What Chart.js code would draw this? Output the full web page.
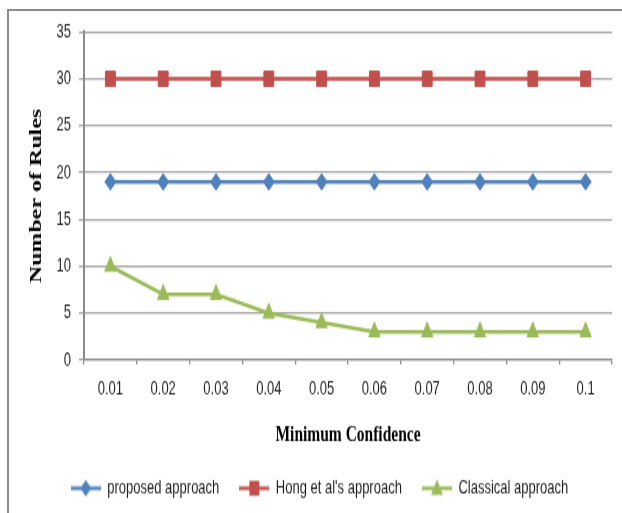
<!DOCTYPE html>
<html>
<head>
<meta charset="utf-8">
<title>Number of Rules vs Minimum Confidence</title>
<script src="https://cdn.jsdelivr.net/npm/chart.js@4.4.0/dist/chart.umd.min.js"></script>
<style>
  html, body { margin: 0; padding: 0; background: #ffffff; }
  body { width: 622px; height: 513px; overflow: hidden; position: relative; }
  /* outer frame of the original figure */
  #frame {
    position: absolute; left: 7px; top: 9px; width: 660px; height: 540px;
    border-left: 2px solid #8c8c8c; border-top: 2px solid #8c8c8c;
  }
  /* the source picture is stretched vertically by ~1.5 */
  #wrap {
    position: absolute; left: 0; top: 0; width: 622px; height: 342px;
    transform: scaleY(1.5); transform-origin: 0 0;
  }
</style>
</head>
<body>
<div id="frame"></div>
<div id="wrap"><canvas id="chart"></canvas></div>
<script>
// Data
const confidence = ['0.01', '0.02', '0.03', '0.04', '0.05', '0.06', '0.07', '0.08', '0.09', '0.1'];
const proposed = [19, 19, 19, 19, 19, 19, 19, 19, 19, 19];
const hong = [30, 30, 30, 30, 30, 30, 30, 30, 30, 30];
const classical = [10, 7, 7, 5, 4, 3, 3, 3, 3, 3];
const seriesNames = ['proposed approach', "Hong et al's approach", 'Classical approach'];
const yMin = 0;
const yMax = 35;
const yStep = 5;

const BLUE = '#4f81bd';
const RED = '#c0504d';
const GREEN = '#9bbb59';
const GRID = '#a6a6a6';
const AXIS = '#8c8c8c';
const TEXT = '#1f1f1f';

// Small line + marker image for the legend (Excel style)
function legendMarker(color, style) {
  const c = document.createElement('canvas');
  c.width = 30;
  c.height = 14;
  const g = c.getContext('2d');
  g.strokeStyle = color;
  g.fillStyle = color;
  g.lineWidth = 2.5;
  g.beginPath();
  g.moveTo(0, 7);
  g.lineTo(30, 7);
  g.stroke();
  g.beginPath();
  if (style === 'rectRot') {
    g.moveTo(15, 1.5); g.lineTo(20.5, 7); g.lineTo(15, 12.5); g.lineTo(9.5, 7);
  } else if (style === 'rect') {
    g.rect(10, 2, 10, 10);
  } else {
    g.moveTo(15, 1); g.lineTo(21, 11.5); g.lineTo(9, 11.5);
  }
  g.closePath();
  g.fill();
  return c;
}

function makeSeries(label, data, color, style, radius) {
  return {
    label: label,
    data: data,
    borderColor: color,
    backgroundColor: color,
    borderWidth: 2.5,
    pointStyle: style,
    pointRadius: radius,
    pointHoverRadius: radius,
    pointBorderColor: color,
    pointBackgroundColor: color,
    pointBorderWidth: 1,
    tension: 0,
    legendStyle: style
  };
}

const ctx = document.getElementById('chart').getContext('2d');

new Chart(ctx, {
  type: 'line',
  data: {
    labels: confidence,
    datasets: [
      makeSeries(seriesNames[0], proposed, BLUE, 'rectRot', 5.5),
      makeSeries(seriesNames[1], hong, RED, 'rect', 7),
      makeSeries(seriesNames[2], classical, GREEN, 'triangle', 6.5)
    ]
  },
  options: {
    responsive: true,
    maintainAspectRatio: false,
    animation: false,
    layout: {
      padding: { left: 27, right: 10, top: 21.3, bottom: 0 }
    },
    plugins: {
      tooltip: { enabled: false },
      legend: {
        position: 'bottom',
        labels: {
          usePointStyle: true,
          pointStyleWidth: 30,
          padding: 20,
          color: TEXT,
          font: { family: "'Liberation Sans', Arial, sans-serif", size: 13 },
          generateLabels: function(chart) {
            return chart.data.datasets.map(function(ds, i) {
              return {
                text: ds.label,
                pointStyle: legendMarker(ds.borderColor, ds.legendStyle),
                fillStyle: ds.borderColor,
                strokeStyle: ds.borderColor,
                lineWidth: 0,
                fontColor: TEXT,
                hidden: false,
                datasetIndex: i
              };
            });
          }
        }
      }
    },
    scales: {
      x: {
        type: 'category',
        offset: true,
        afterFit: function(scale) { scale.height = 59; },
        grid: {
          offset: true,
          drawOnChartArea: false,
          drawTicks: true,
          tickLength: 3,
          color: AXIS,
          lineWidth: 1.3
        },
        border: { color: AXIS, width: 1.3 },
        ticks: {
          padding: 9,
          color: TEXT,
          maxRotation: 0,
          font: { family: "'Liberation Sans', Arial, sans-serif", size: 13 }
        },
        title: {
          display: true,
          text: 'Minimum Confidence',
          color: '#000000',
          padding: { top: 0, bottom: 0 },
          font: { family: "'Liberation Serif', 'Times New Roman', serif", size: 15.5, weight: 'bold' }
        }
      },
      y: {
        min: yMin,
        max: yMax,
        afterFit: function(scale) { scale.width = 57; },
        ticks: {
          stepSize: yStep,
          padding: 8,
          color: TEXT,
          font: { family: "'Liberation Sans', Arial, sans-serif", size: 13 }
        },
        grid: {
          color: GRID,
          lineWidth: 1.3,
          tickLength: 5
        },
        border: { color: AXIS, width: 2 },
        title: {
          display: true,
          text: 'Number of Rules',
          color: '#000000',
          padding: { top: 0, bottom: 0 },
          font: { family: "'Liberation Serif', 'Times New Roman', serif", size: 16, weight: 'bold' }
        }
      }
    }
  }
});
</script>
</body>
</html>
